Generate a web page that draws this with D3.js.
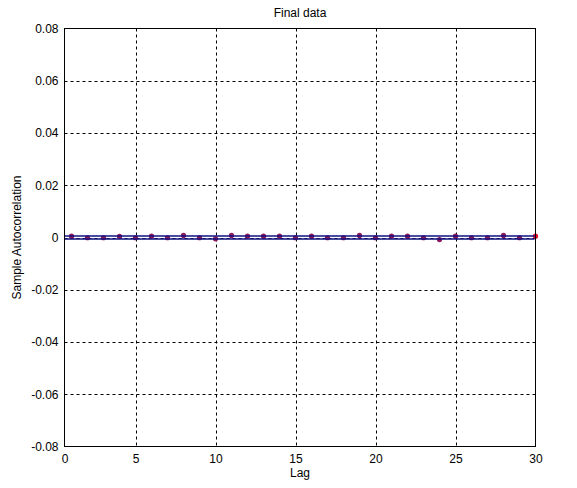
<!DOCTYPE html>
<html><head><meta charset="utf-8">
<script src="https://cdn.jsdelivr.net/npm/d3@7"></script>
<style>body{margin:0;background:#fff}svg text{font-family:"Liberation Sans",Arial,sans-serif;}</style>
</head><body>
<svg id="c" width="577" height="488"></svg>
<script>
const lags = d3.range(1, 31);
const acf = [0.0005,-0.0001,-0.0001,0.0004,-0.0001,0.0005,-0.0001,0.0008,-0.0001,-0.0005,
             0.0008,0.0005,0.0005,0.0005,-0.0001,0.0005,-0.0001,-0.0001,0.0008,-0.0001,
             0.0005,0.0005,-0.0001,-0.0008,0.0005,-0.0001,-0.0001,0.0008,-0.0001,0.0005];
const bound = 0.0006;
const xTicks = [0.5625,5,10,15,20,25,30];
const yTicks = [-0.08,-0.06,-0.04,-0.02,0,0.02,0.04,0.06,0.08];

const svg = d3.select("#c");
const L=64.5,R=535.5,T=28.5,B=446.5;
const x = d3.scaleLinear().domain([0.5625,30]).range([L,R]);
const y = d3.scaleLinear().domain([-0.08,0.08]).range([B,T]);

svg.append("rect").attr("x",L).attr("y",T).attr("width",R-L).attr("height",B-T).attr("fill","#fff");

// grid
const g = svg.append("g");
g.selectAll(".gx").data(xTicks.slice(1,-1)).join("line")
  .attr("x1",d=>Math.round(x(d))+0.5).attr("x2",d=>Math.round(x(d))+0.5).attr("y1",T).attr("y2",B)
  .attr("stroke","#000").attr("stroke-dasharray","3,3").attr("stroke-width",1);
g.selectAll(".gy").data(yTicks.slice(1,-1)).join("line")
  .attr("y1",d=>Math.round(y(d))+0.5).attr("y2",d=>Math.round(y(d))+0.5).attr("x1",L).attr("x2",R)
  .attr("stroke","#000").attr("stroke-dasharray","3,3").attr("stroke-width",1);

// stems + markers
const pts = svg.append("g");
pts.selectAll("line").data(lags).join("line")
  .attr("x1",(d)=>x(d)).attr("x2",(d)=>x(d)).attr("y1",y(0)).attr("y2",(d,i)=>y(acf[i]))
  .attr("stroke","#c00020").attr("stroke-width",1);
pts.selectAll("circle").data(lags).join("circle")
  .attr("cx",d=>x(d)).attr("cy",(d,i)=>y(acf[i])).attr("r",2.6)
  .attr("fill",(d,i)=>i===lags.length-1?"#e0102a":"#8e1a5e");

// bounds
[bound,-bound].forEach(b=>{
  svg.append("line").attr("x1",L).attr("x2",R-1).attr("y1",y(b)).attr("y2",y(b))
    .attr("stroke","#101080").attr("stroke-width",1.4);
});

// axes box
svg.append("rect").attr("x",L).attr("y",T).attr("width",R-L).attr("height",B-T)
  .attr("fill","none").attr("stroke","#000").attr("stroke-width",1);

const xa = d3.axisBottom(x).tickValues(xTicks).tickSize(0).tickPadding(8).tickFormat(d=>d<1?"0":String(d));
svg.append("g").attr("transform",`translate(0,${B})`).call(xa)
  .call(s=>s.select(".domain").remove())
  .selectAll("text").attr("font-size",12).attr("fill","#000");
const ya = d3.axisLeft(y).tickValues(yTicks).tickSize(0).tickPadding(6).tickFormat(d=>d===0?"0":d.toFixed(2));
svg.append("g").attr("transform",`translate(${L},0)`).call(ya)
  .call(s=>s.select(".domain").remove())
  .selectAll("text").attr("font-size",12).attr("fill","#000");

svg.append("text").attr("x",(L+R)/2).attr("y",17).attr("text-anchor","middle").attr("font-size",12).text("Final data");
svg.append("text").attr("x",(L+R)/2).attr("y",477).attr("text-anchor","middle").attr("font-size",12).text("Lag");
svg.append("text").attr("transform",`translate(21,${(T+B)/2}) rotate(-90)`).attr("text-anchor","middle").attr("font-size",12).text("Sample Autocorrelation");
</script>
</body></html>
